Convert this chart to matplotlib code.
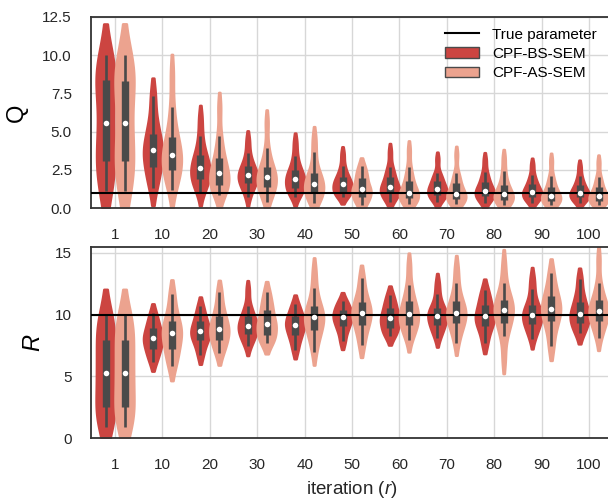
import numpy as np
import pandas as pd
import matplotlib
matplotlib.use('Agg')
import matplotlib.pyplot as plt
import matplotlib.cbook as cbook
from matplotlib.lines import Line2D
from matplotlib.patches import Patch
import seaborn as sns

plt.rcParams['font.family'] = ['Liberation Sans', 'DejaVu Sans']
plt.rcParams['mathtext.fontset'] = 'custom'
plt.rcParams['mathtext.it'] = 'Liberation Sans:italic'
plt.rcParams['mathtext.rm'] = 'Liberation Sans'

iterations = ['1', '10', '20', '30', '40', '50', '60', '70', '80', '90', '100']
methods = ['CPF-BS-SEM', 'CPF-AS-SEM']
true_q = 1.0
true_r = 10.0

# estimated runs per iteration
q_bs = [
    [1.1, 2.4, 3.1, 4.4, 5.55, 7.4, 8.35, 8.9, 10.0],
    [1.35, 2.34, 2.67, 3.56, 3.78, 3.99, 4.85, 5.6, 7.33],
    [0.98, 1.55, 1.75, 1.89, 2.2, 2.45, 2.65, 2.85, 3.1, 3.48, 3.85, 4.72, 5.9],
    [0.72, 1.3, 1.5, 1.63, 1.9, 2.05, 2.17, 2.3, 2.5, 2.76, 3.0, 3.59, 4.46],
    [0.76, 1.05, 1.2, 1.3, 1.6, 1.78, 1.91, 2.05, 2.25, 2.5, 2.8, 3.41, 4.31],
    [0.76, 0.92, 1.0, 1.08, 1.32, 1.47, 1.57, 1.68, 1.85, 2.06, 2.3, 2.76, 3.54],
    [0.43, 0.75, 0.88, 0.98, 1.15, 1.28, 1.37, 1.5, 1.75, 2.06, 2.3, 2.71, 3.69],
    [0.43, 0.68, 0.8, 0.87, 1.05, 1.17, 1.26, 1.38, 1.55, 1.8, 2.0, 2.28, 3.21],
    [0.37, 0.6, 0.72, 0.8, 0.97, 1.07, 1.15, 1.28, 1.47, 1.74, 1.98, 2.39, 3.16],
    [0.37, 0.57, 0.68, 0.76, 0.92, 1.01, 1.08, 1.2, 1.37, 1.59, 1.8, 2.17, 2.85],
    [0.37, 0.55, 0.65, 0.72, 0.87, 0.96, 1.02, 1.13, 1.3, 1.52, 1.72, 2.11, 2.74],
]
q_as = [
    [1.1, 2.3, 3.1, 4.4, 5.55, 7.3, 8.3, 9.0, 10.0],
    [1.19, 1.9, 2.25, 2.5, 2.95, 3.25, 3.48, 3.75, 4.15, 4.67, 5.3, 6.63, 8.8],
    [0.87, 1.2, 1.38, 1.52, 1.85, 2.1, 2.28, 2.5, 2.85, 3.3, 3.8, 4.72, 6.6],
    [0.43, 0.95, 1.2, 1.37, 1.65, 1.87, 2.02, 2.2, 2.42, 2.71, 3.1, 3.91, 5.6],
    [0.33, 0.68, 0.85, 0.98, 1.25, 1.45, 1.59, 1.78, 2.0, 2.28, 2.7, 3.65, 4.6],
    [0.21, 0.62, 0.76, 1.14, 1.24, 1.38, 1.96, 2.2, 2.76],
    [0.28, 0.47, 0.57, 0.65, 0.82, 0.94, 1.02, 1.18, 1.45, 1.8, 2.1, 2.67, 3.8],
    [0.26, 0.43, 0.52, 0.59, 0.75, 0.86, 0.93, 1.08, 1.3, 1.63, 1.9, 2.28, 3.5],
    [0.21, 0.38, 0.47, 0.54, 0.71, 0.83, 0.91, 1.05, 1.25, 1.52, 1.85, 2.45, 3.3],
    [0.21, 0.35, 0.43, 0.5, 0.65, 0.75, 0.82, 0.95, 1.15, 1.41, 1.7, 2.11, 3.1],
    [0.21, 0.35, 0.43, 0.5, 0.64, 0.74, 0.8, 0.93, 1.13, 1.41, 1.68, 2.06, 3.0],
]
r_bs = [
    [0.94, 2.0, 2.57, 4.2, 5.32, 6.4, 7.97, 8.8, 10.0],
    [6.21, 6.98, 7.24, 7.91, 8.08, 8.25, 8.92, 9.28, 10.1],
    [6.75, 7.67, 7.97, 8.51, 8.65, 8.81, 9.46, 9.82, 10.67],
    [7.43, 8.0, 8.25, 8.43, 8.75, 8.97, 9.11, 9.28, 9.55, 9.86, 10.2, 10.73, 12.02],
    [7.16, 8.08, 8.38, 9.03, 9.19, 9.32, 9.86, 10.16, 10.86],
    [7.84, 8.75, 9.05, 9.63, 9.78, 9.9, 10.4, 10.62, 11.13],
    [8.24, 8.75, 8.92, 9.54, 9.7, 9.87, 10.54, 10.86, 11.62],
    [8.11, 8.7, 8.98, 9.19, 9.55, 9.78, 9.92, 10.08, 10.3, 10.54, 10.9, 11.67, 12.6],
    [7.7, 8.76, 9.11, 9.71, 9.86, 10.05, 10.81, 11.18, 12.03],
    [8.05, 8.7, 9.0, 9.27, 9.62, 9.83, 9.97, 10.15, 10.42, 10.75, 11.2, 12.08, 13.0],
    [8.51, 9.12, 9.32, 9.93, 10.08, 10.27, 11.03, 11.59, 12.89],
]
r_as = [
    [0.94, 2.0, 2.57, 4.2, 5.32, 6.4, 7.97, 8.8, 10.0],
    [5.81, 6.88, 7.24, 8.26, 8.51, 8.71, 9.51, 10.16, 11.67],
    [6.89, 7.7, 7.97, 8.68, 8.86, 9.06, 9.86, 10.45, 11.81],
    [7.7, 8.17, 8.32, 9.08, 9.27, 9.5, 10.4, 10.82, 11.81],
    [6.97, 8.0, 8.45, 8.78, 9.3, 9.6, 9.78, 9.98, 10.3, 10.67, 11.2, 12.16, 13.55],
    [7.57, 8.79, 9.19, 9.97, 10.16, 10.33, 11.03, 11.61, 12.97],
    [7.97, 8.7, 8.98, 9.19, 9.6, 9.88, 10.05, 10.3, 10.65, 11.08, 11.6, 12.43, 14.0],
    [7.7, 8.6, 9.05, 9.32, 9.75, 9.98, 10.16, 10.38, 10.7, 11.08, 11.6, 12.57, 13.8],
    [6.4, 8.24, 8.9, 9.32, 9.85, 10.18, 10.38, 10.6, 10.9, 11.21, 11.7, 12.57, 14.1],
    [7.43, 8.95, 9.46, 10.28, 10.49, 10.69, 11.48, 12.05, 13.38],
    [8.11, 8.9, 9.25, 9.51, 9.95, 10.17, 10.32, 10.52, 10.83, 11.21, 11.7, 12.57, 14.5],
]

colors = ['#cc4541', '#eca38f']
box_color = '#4a4a4a'


def long_frame(bs, as_):
    rows = []
    for it, a, b in zip(iterations, bs, as_):
        rows += [(it, methods[0], v) for v in a]
        rows += [(it, methods[1], v) for v in b]
    return pd.DataFrame(rows, columns=['iteration', 'method', 'value'])


def draw_panel(ax, bs, as_, truth):
    df = long_frame(bs, as_)
    sns.violinplot(data=df, x='iteration', y='value', hue='method',
                   order=iterations, hue_order=methods, palette=colors,
                   saturation=1, inner=None, cut=1.25, bw_adjust=0.8,
                   density_norm='width', legend=False, ax=ax)
    for coll in ax.collections:
        coll.set_edgecolor(coll.get_facecolor())
        coll.set_linewidth(1.8)
    # inner boxes
    for k, series in enumerate([bs, as_]):
        off = -0.2 if k == 0 else 0.2
        for i, obs in enumerate(series):
            st = cbook.boxplot_stats(np.array(obs))[0]
            x = i + off
            ax.vlines(x, st['whislo'], st['whishi'], color=box_color,
                      lw=1.9, zorder=3)
            ax.vlines(x, st['q1'], st['q3'], color=box_color, lw=5.3,
                      zorder=3)
            ax.scatter([x], [st['med']], s=16, color='white', zorder=5,
                       linewidths=0)
    ax.axhline(truth, color='black', lw=1.5, zorder=4)
    ax.xaxis.grid(True)
    ax.yaxis.grid(True)
    ax.set_axisbelow(True)
    ax.set_xlim(-0.5, len(iterations) - 0.5)
    ax.set_xlabel('')
    ax.tick_params(length=0, pad=14, labelsize=11, colors='#262626')
    for sp in ax.spines.values():
        sp.set_color('#333333')
        sp.set_linewidth(1.3)


plt.rcParams['grid.color'] = '#d7d7d7'
plt.rcParams['grid.linewidth'] = 1.0

fig = plt.figure(figsize=(6.08, 5.0), dpi=100)
ax1 = fig.add_axes([0.1502, 0.5834, 0.8576, 0.3832])
ax2 = fig.add_axes([0.1502, 0.1234, 0.8576, 0.3832])

draw_panel(ax1, q_bs, q_as, true_q)
ax1.set_ylim(0, 12.5)
ax1.set_yticks([0, 2.5, 5, 7.5, 10, 12.5])
ax1.set_yticklabels(['0.0', '2.5', '5.0', '7.5', '10.0', '12.5'])
ax1.set_ylabel('Q', fontsize=17)
ax1.yaxis.set_label_coords(-0.121, 0.5)

draw_panel(ax2, r_bs, r_as, true_r)
ax2.set_ylim(0, 15.5)
ax2.set_yticks([0, 5, 10, 15])
ax2.set_ylabel('$R$', fontsize=17)
ax2.yaxis.set_label_coords(-0.089, 0.5)
ax2.set_xlabel('iteration ($r$)', fontsize=13.5, color='#262626')
ax2.xaxis.set_label_coords(0.5, -0.215)

handles = [Line2D([], [], color='black', lw=1.5, label='True parameter'),
           Patch(facecolor=colors[0], edgecolor=box_color, lw=1, label=methods[0]),
           Patch(facecolor=colors[1], edgecolor=box_color, lw=1, label=methods[1])]
ax1.legend(handles=handles, loc='upper right', bbox_to_anchor=(0.981, 0.974),
           borderaxespad=0, frameon=False, fontsize=11, handlelength=2.2,
           handletextpad=0.85, labelspacing=0.35)

fig.savefig('out.png', dpi=100)
